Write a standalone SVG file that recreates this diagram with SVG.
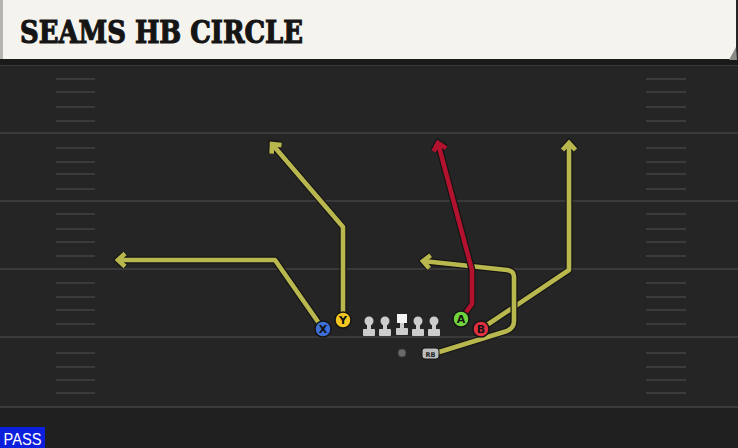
<svg xmlns="http://www.w3.org/2000/svg" width="738" height="448" viewBox="0 0 738 448">
<style>
.yard{stroke:#3a3a3a;stroke-width:2}
.hash{stroke:#3b3b3b;stroke-width:2}
.out{fill:none;stroke:#151515;stroke-width:7;stroke-linejoin:round}
.ol{fill:none;stroke:#b9b84f;stroke-width:4.6;stroke-linejoin:round}
.rd{fill:none;stroke:#b3122e;stroke-width:4.6;stroke-linejoin:round}
.pc{stroke:#151515;stroke-width:1.5}
.pl{font-family:"DejaVu Sans","Liberation Sans",sans-serif;font-weight:bold;font-size:11px;fill:#111;text-anchor:middle}
.lm{fill:#cdcdcd}
</style>
<defs>
<marker id="ao" markerUnits="userSpaceOnUse" orient="auto" markerWidth="30" markerHeight="30" refX="0" refY="0" viewBox="-15 -15 30 30" overflow="visible">
<path d="M-7,-6.5 L0,0 L-7,6.5" fill="none" stroke="#151515" stroke-width="7" stroke-linejoin="miter"/>
</marker>
<marker id="ay" markerUnits="userSpaceOnUse" orient="auto" markerWidth="30" markerHeight="30" refX="0" refY="0" viewBox="-15 -15 30 30" overflow="visible">
<path d="M-7,-6.5 L0,0 L-7,6.5" fill="none" stroke="#b9b84f" stroke-width="4.6" stroke-linejoin="miter"/>
</marker>
<marker id="ar" markerUnits="userSpaceOnUse" orient="auto" markerWidth="30" markerHeight="30" refX="0" refY="0" viewBox="-15 -15 30 30" overflow="visible">
<path d="M-7,-6.5 L0,0 L-7,6.5" fill="none" stroke="#b3122e" stroke-width="4.6" stroke-linejoin="miter"/>
</marker>
</defs>
<rect width="738" height="448" fill="#252525"/>
<rect y="407" width="738" height="41" fill="#202020"/>
<g id="field">
<line class="yard" x1="0" y1="65" x2="738" y2="65"/>
<line class="yard" x1="0" y1="133" x2="738" y2="133"/>
<line class="yard" x1="0" y1="201" x2="738" y2="201"/>
<line class="yard" x1="0" y1="269" x2="738" y2="269"/>
<line class="yard" x1="0" y1="337" x2="738" y2="337"/>
<line class="yard" x1="0" y1="407" x2="738" y2="407"/>
<g class="hash">
<line x1="56" y1="79" x2="95" y2="79"/><line x1="56" y1="92" x2="95" y2="92"/><line x1="56" y1="107" x2="95" y2="107"/><line x1="56" y1="121" x2="95" y2="121"/>
<line x1="56" y1="148" x2="95" y2="148"/><line x1="56" y1="162" x2="95" y2="162"/><line x1="56" y1="174" x2="95" y2="174"/><line x1="56" y1="189" x2="95" y2="189"/>
<line x1="56" y1="214" x2="95" y2="214"/><line x1="56" y1="229" x2="95" y2="229"/><line x1="56" y1="242" x2="95" y2="242"/><line x1="56" y1="256" x2="95" y2="256"/>
<line x1="56" y1="283" x2="95" y2="283"/><line x1="56" y1="297" x2="95" y2="297"/><line x1="56" y1="310" x2="95" y2="310"/><line x1="56" y1="324" x2="95" y2="324"/>
<line x1="56" y1="353" x2="95" y2="353"/><line x1="56" y1="367" x2="95" y2="367"/><line x1="56" y1="380" x2="95" y2="380"/><line x1="56" y1="393" x2="95" y2="393"/>
<line x1="646" y1="79" x2="686" y2="79"/><line x1="646" y1="92" x2="686" y2="92"/><line x1="646" y1="107" x2="686" y2="107"/><line x1="646" y1="121" x2="686" y2="121"/>
<line x1="646" y1="148" x2="686" y2="148"/><line x1="646" y1="162" x2="686" y2="162"/><line x1="646" y1="174" x2="686" y2="174"/><line x1="646" y1="189" x2="686" y2="189"/>
<line x1="646" y1="214" x2="686" y2="214"/><line x1="646" y1="229" x2="686" y2="229"/><line x1="646" y1="242" x2="686" y2="242"/><line x1="646" y1="256" x2="686" y2="256"/>
<line x1="646" y1="283" x2="686" y2="283"/><line x1="646" y1="297" x2="686" y2="297"/><line x1="646" y1="310" x2="686" y2="310"/><line x1="646" y1="324" x2="686" y2="324"/>
<line x1="646" y1="353" x2="686" y2="353"/><line x1="646" y1="367" x2="686" y2="367"/><line x1="646" y1="380" x2="686" y2="380"/><line x1="646" y1="393" x2="686" y2="393"/>
</g>
</g>
<g id="header">
<rect x="0" y="59" width="738" height="6" fill="#1a1a1a"/>
<path d="M0,0 H736 V49 L731,59 H0 Z" fill="#f5f3ee"/>
<path d="M736,47 L737,60 L729,60 Z" fill="#8a8a88"/>
<rect x="0" y="0" width="3" height="59" fill="#b5b4b0"/>
<text x="20" y="43" font-family="DejaVu Serif,'Liberation Serif',serif" font-weight="bold" font-size="31" fill="#151515" stroke="#151515" stroke-width="1.2" textLength="283" lengthAdjust="spacingAndGlyphs">SEAMS HB CIRCLE</text>
</g>
<g id="connectors">
<path class="out" d="M323,329 L275,260 L118,260" marker-end="url(#ao)"/>
<path class="ol" d="M323,329 L275,260 L118,260" marker-end="url(#ay)"/>
<path class="out" d="M343,320 L343,227 L272,144" marker-end="url(#ao)"/>
<path class="ol" d="M343,320 L343,227 L272,144" marker-end="url(#ay)"/>
<path class="out" d="M481,329 L569,270 L569,143" marker-end="url(#ao)"/>
<path class="ol" d="M481,329 L569,270 L569,143" marker-end="url(#ay)"/>
<path class="out" d="M436,353 L507,331 Q514,328 514,321 L514,277 Q514,271 507,270 L423,261" marker-end="url(#ao)"/>
<path class="ol" d="M436,353 L507,331 Q514,328 514,321 L514,277 Q514,271 507,270 L423,261" marker-end="url(#ay)"/>
<path class="out" d="M461,319 L472,304 L472,270 L438,143" marker-end="url(#ao)"/>
<path class="rd" d="M461,319 L472,304 L472,270 L438,143" marker-end="url(#ar)"/>
</g>
<g id="line">
<g id="lt"><circle class="lm" cx="369" cy="321" r="4.5"/><rect class="lm" x="367" y="321" width="4" height="9"/><rect class="lm" x="363" y="329" width="12" height="7" rx="1"/></g>
<g id="lg"><circle class="lm" cx="385" cy="321" r="4.5"/><rect class="lm" x="383" y="321" width="4" height="9"/><rect class="lm" x="379" y="329" width="12" height="7" rx="1"/></g>
<g id="c"><rect x="397" y="314" width="10" height="9" fill="#f4f4f4"/><rect class="lm" x="400" y="323" width="4" height="6"/><rect class="lm" x="396" y="328" width="12" height="7" rx="1"/></g>
<g id="rg"><circle class="lm" cx="418" cy="321" r="4.5"/><rect class="lm" x="416" y="321" width="4" height="9"/><rect class="lm" x="412" y="329" width="12" height="7" rx="1"/></g>
<g id="rt"><circle class="lm" cx="434" cy="321" r="4.5"/><rect class="lm" x="432" y="321" width="4" height="9"/><rect class="lm" x="428" y="329" width="12" height="7" rx="1"/></g>
</g>
<g id="qb"><circle cx="402" cy="353" r="4" fill="#6a6a6a" stroke="#444" stroke-width="1"/></g>
<g id="rb"><rect x="422" y="348" width="17" height="11" rx="3" fill="#bdbdbd" stroke="#151515" stroke-width="1"/><text x="430.5" y="356.5" font-family="DejaVu Sans,sans-serif" font-weight="bold" font-size="6.5" fill="#222" text-anchor="middle">RB</text></g>
<g id="X"><circle class="pc" cx="323" cy="329" r="8" fill="#3d6fd6"/><text class="pl" x="323" y="333">X</text></g>
<g id="Y"><circle class="pc" cx="343" cy="320" r="8" fill="#f2c71f"/><text class="pl" x="343" y="324">Y</text></g>
<g id="A"><circle class="pc" cx="461" cy="319" r="8" fill="#72d43d"/><text class="pl" x="461" y="323">A</text></g>
<g id="B"><circle class="pc" cx="481" cy="329" r="8" fill="#e0303f"/><text class="pl" x="481" y="333">B</text></g>
<g id="pass"><rect x="0" y="427" width="45" height="21" fill="#0c1fdc"/><text x="22.5" y="445" font-family="'Liberation Sans',Arial,sans-serif" font-size="16" fill="#ffffff" text-anchor="middle" textLength="38" lengthAdjust="spacingAndGlyphs">PASS</text></g>
</svg>
